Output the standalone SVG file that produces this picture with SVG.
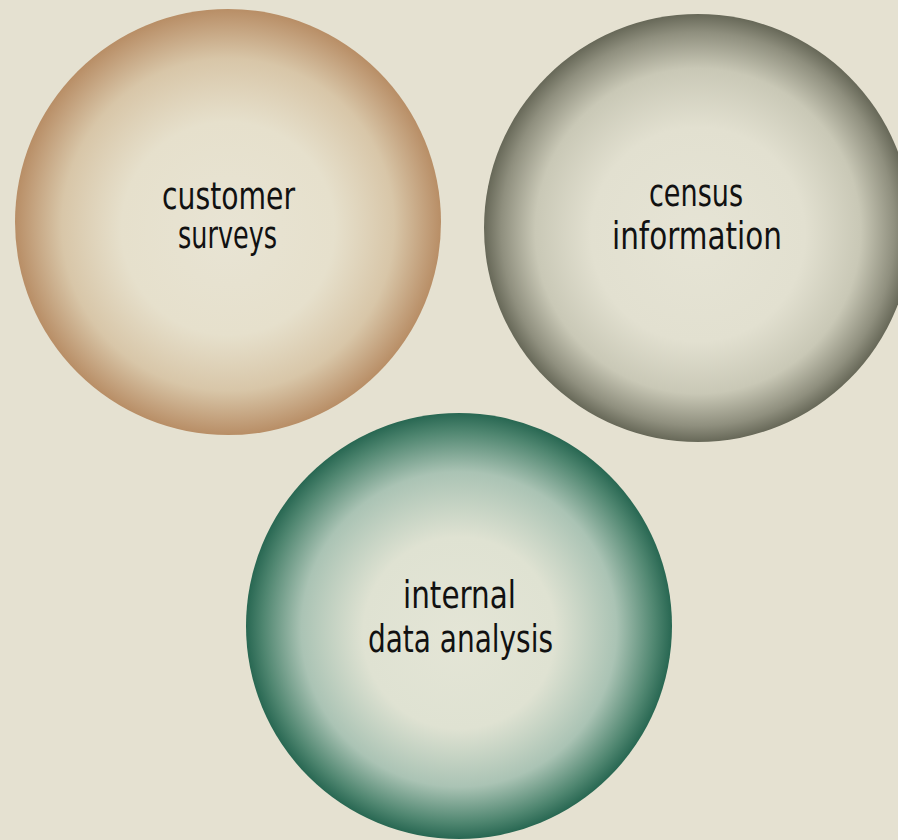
<svg xmlns="http://www.w3.org/2000/svg" width="898" height="840" viewBox="0 0 898 840">
  <defs>
    <radialGradient id="gTan" cx="50%" cy="50%" r="50%" fx="50%" fy="53%">
      <stop offset="0" stop-color="#e8e4d4"/>
      <stop offset="0.5" stop-color="#e6e0cc"/>
      <stop offset="0.78" stop-color="#d8c6a8"/>
      <stop offset="0.94" stop-color="#c19d78"/>
      <stop offset="1" stop-color="#b88e66"/>
    </radialGradient>
    <radialGradient id="gGray" cx="50%" cy="50%" r="50%" fx="50%" fy="53%">
      <stop offset="0" stop-color="#e6e4d5"/>
      <stop offset="0.5" stop-color="#e2e0d0"/>
      <stop offset="0.76" stop-color="#c9c8b6"/>
      <stop offset="0.92" stop-color="#8f8f7e"/>
      <stop offset="1" stop-color="#676858"/>
    </radialGradient>
    <radialGradient id="gGreen" cx="50%" cy="50%" r="50%" fx="50%" fy="53%">
      <stop offset="0" stop-color="#e4e5d6"/>
      <stop offset="0.45" stop-color="#dfe2d2"/>
      <stop offset="0.74" stop-color="#aac3b4"/>
      <stop offset="0.92" stop-color="#4f8670"/>
      <stop offset="1" stop-color="#286752"/>
    </radialGradient>
  </defs>
  <style>
    .lbl { font-family: "DejaVu Sans Condensed", "Liberation Sans", sans-serif; font-size: 37px; fill: #111; text-anchor: middle; }
  </style>
  <rect width="898" height="840" fill="#e5e1d1"/>
  <g id="node-customer-surveys">
    <circle cx="228" cy="222" r="213" fill="url(#gTan)"/>
    <text class="lbl" x="228.5" y="209" textLength="133" lengthAdjust="spacingAndGlyphs">customer</text>
    <text class="lbl" x="227.5" y="248" textLength="99" lengthAdjust="spacingAndGlyphs">surveys</text>
  </g>
  <g id="node-census-information">
    <circle cx="698" cy="228" r="214" fill="url(#gGray)"/>
    <text class="lbl" x="696" y="206" textLength="94" lengthAdjust="spacingAndGlyphs">census</text>
    <text class="lbl" x="697" y="249" textLength="170" lengthAdjust="spacingAndGlyphs">information</text>
  </g>
  <g id="node-internal-data-analysis">
    <circle cx="459" cy="626" r="213" fill="url(#gGreen)"/>
    <text class="lbl" x="459.5" y="608" textLength="113" lengthAdjust="spacingAndGlyphs">internal</text>
    <text class="lbl" x="460.5" y="652" textLength="185" lengthAdjust="spacingAndGlyphs">data analysis</text>
  </g>
  <g id="connectors"></g>
</svg>
